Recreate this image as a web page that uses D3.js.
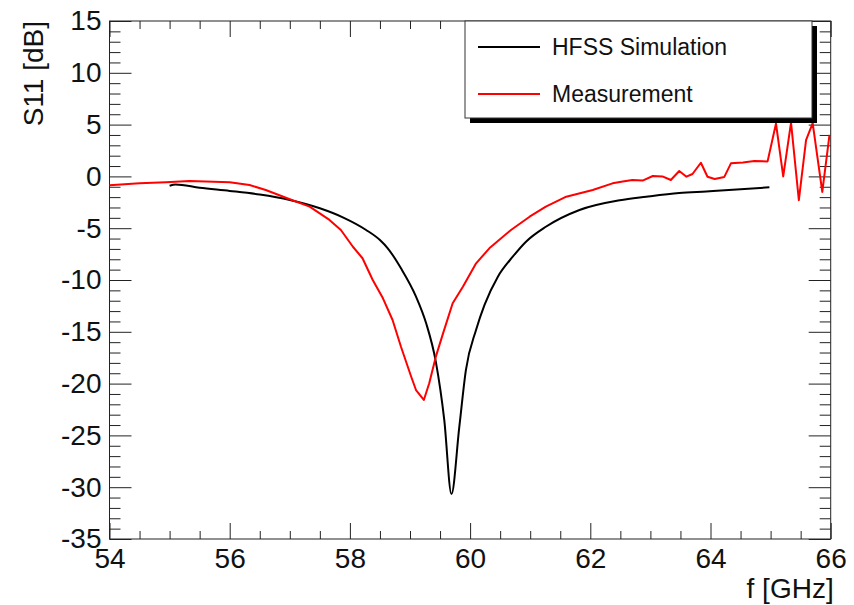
<!DOCTYPE html>
<html>
<head>
<meta charset="utf-8">
<title>S11</title>
<script src="https://cdn.jsdelivr.net/npm/d3@7"></script>
<style>
	body { margin: 0; background: #fff; }
	svg text { font-family: 'Liberation Sans', Arial, Helvetica, sans-serif; fill: #111; }
	.axis path { display: none; }
	.axis line { stroke: #222; }
</style>
</head>
<body>
<div id="chart"></div>
<script>
// HFSS simulation, f [GHz] and S11 [dB]
var simF = [55.0, 55.1, 55.5, 56.0, 56.5, 57.0, 57.5, 57.9, 58.27, 58.5, 58.63, 58.85, 59.1, 59.27, 59.43,
	59.57, 59.69, 59.82, 59.93, 60.1, 60.24, 60.46, 60.71, 60.93, 61.26, 61.82, 62.49, 62.93, 63.48, 63.93, 64.5, 64.98];
var simS = [-0.9, -0.78, -1.1, -1.4, -1.75, -2.28, -3.08, -4.0, -5.17, -6.14, -6.94, -8.87, -11.6, -14.2, -17.9,
	-23.5, -30.65, -24.2, -18.7, -14.8, -12.4, -9.7, -7.75, -6.3, -4.86, -3.24, -2.3, -1.96, -1.6, -1.45, -1.25, -1.05];

// measurement
var measF = [54.0, 54.5, 54.94, 55.33, 55.6, 56.0, 56.33, 56.6, 57.0, 57.33, 57.66, 57.85, 58.05, 58.21, 58.38,
	58.55, 58.71, 58.85, 59.02, 59.1, 59.23, 59.32, 59.43, 59.55, 59.71, 59.88, 60.1, 60.32, 60.68, 60.99,
	61.26, 61.6, 62.04, 62.37, 62.54, 62.7, 62.87, 63.04, 63.2, 63.34, 63.48, 63.6, 63.7, 63.84, 63.95,
	64.07, 64.23, 64.34, 64.54, 64.73, 64.95, 65.09, 65.21, 65.34, 65.47, 65.59, 65.7, 65.86, 65.98];
var measS = [-0.85, -0.67, -0.57, -0.45, -0.5, -0.57, -0.83, -1.31, -2.2, -2.92, -4.2, -5.17, -6.79, -7.9, -10.0,
	-11.77, -13.86, -16.44, -19.34, -20.62, -21.58, -19.97, -17.4, -15.15, -12.25, -10.65, -8.39, -6.94, -5.17, -3.89,
	-2.92, -1.96, -1.31, -0.67, -0.5, -0.35, -0.4, 0.04, 0.0, -0.35, 0.52, -0.03, 0.23, 1.32, -0.03,
	-0.25, -0.05, 1.26, 1.35, 1.49, 1.45, 5.1, 0.0, 5.2, -2.3, 3.5, 5.15, -1.5, 4.0];

var xTicks = [54, 56, 58, 60, 62, 64, 66];
var yTicks = [-35, -30, -25, -20, -15, -10, -5, 0, 5, 10, 15];
var series = ["HFSS Simulation", "Measurement"];
var colors = ["#000000", "#ff0000"];

var W = 854, H = 605;
var padL = 109.5, padR = 830.7, padT = 21, padB = 539;

var svg = d3.select("#chart").append("svg")
	.attr("width", W)
	.attr("height", H);

var x = d3.scaleLinear().domain([54, 66]).range([padL, padR]);
var y = d3.scaleLinear().domain([-35, 15]).range([padB, padT]);

var xMinor = d3.range(54, 66.01, 0.5).filter(function (d) { return d % 2 != 0; });
var yMinor = d3.range(-35, 15.01, 1).filter(function (d) { return d % 5 != 0; });

// plain hyphen for negatives, like the original
var fmt = function (d) { return String(d); };

// ticks on all four sides, pointing inwards
svg.append("g").attr("class", "axis tl").attr("transform", "translate(0," + padB + ")")
	.call(d3.axisBottom(x).tickValues(xTicks).tickSize(-16).tickPadding(9).tickFormat(fmt));
svg.append("g").attr("class", "axis").attr("transform", "translate(0," + padB + ")")
	.call(d3.axisBottom(x).tickValues(xMinor).tickSize(-8).tickFormat(""));
svg.append("g").attr("class", "axis").attr("transform", "translate(0," + padT + ")")
	.call(d3.axisTop(x).tickValues(xTicks).tickSize(-16).tickFormat(""));
svg.append("g").attr("class", "axis").attr("transform", "translate(0," + padT + ")")
	.call(d3.axisTop(x).tickValues(xMinor).tickSize(-8).tickFormat(""));

svg.append("g").attr("class", "axis tl").attr("transform", "translate(" + padL + ",0)")
	.call(d3.axisLeft(y).tickValues(yTicks).tickSize(-22).tickPadding(8).tickFormat(fmt));
svg.append("g").attr("class", "axis").attr("transform", "translate(" + padL + ",0)")
	.call(d3.axisLeft(y).tickValues(yMinor).tickSize(-11).tickFormat(""));
svg.append("g").attr("class", "axis").attr("transform", "translate(" + padR + ",0)")
	.call(d3.axisRight(y).tickValues(yTicks).tickSize(-22).tickFormat(""));
svg.append("g").attr("class", "axis").attr("transform", "translate(" + padR + ",0)")
	.call(d3.axisRight(y).tickValues(yMinor).tickSize(-11).tickFormat(""));

svg.selectAll(".tl text")
	.attr("font-size", 28)
	.attr("font-family", "'Liberation Sans', Arial, sans-serif")
	.attr("fill", "#111");

// frame
svg.append("rect")
	.attr("x", padL).attr("y", padT)
	.attr("width", padR - padL).attr("height", padB - padT)
	.attr("fill", "none").attr("stroke", "#222").attr("stroke-width", 1);

// titles
svg.append("text")
	.attr("x", padR + 3).attr("y", 598)
	.attr("text-anchor", "end")
	.attr("font-size", 28)
	.text("f [GHz]");
svg.append("text")
	.attr("transform", "translate(43," + padT + ") rotate(-90)")
	.attr("text-anchor", "end")
	.attr("font-size", 28)
	.text("S11 [dB]");

// curves
var simLine = d3.line()
	.x(function (d) { return x(d[0]); })
	.y(function (d) { return y(d[1]); })
	.curve(d3.curveMonotoneX);
var measLine = d3.line()
	.x(function (d) { return x(d[0]); })
	.y(function (d) { return y(d[1]); });

var data = [d3.zip(simF, simS), d3.zip(measF, measS)];

svg.selectAll("path.curve")
	.data(data)
	.enter()
	.append("path")
	.attr("class", "curve")
	.attr("d", function (d, i) { return i == 0 ? simLine(d) : measLine(d); })
	.attr("fill", "none")
	.attr("stroke", function (d, i) { return colors[i]; })
	.attr("stroke-width", 2)
	.attr("stroke-linejoin", "round");

// legend box with shadow
var lx = 465, ly = 21, lw = 347, lh = 97;
svg.append("rect").attr("x", lx + 5).attr("y", ly + 5).attr("width", lw).attr("height", lh).attr("fill", "#000");
svg.append("rect").attr("x", lx).attr("y", ly).attr("width", lw).attr("height", lh)
	.attr("fill", "#fff").attr("stroke", "#333").attr("stroke-width", 1);

var leg = svg.selectAll("g.leg")
	.data(series)
	.enter()
	.append("g")
	.attr("class", "leg")
	.attr("transform", function (d, i) { return "translate(" + lx + "," + (47 + i * 47) + ")"; });
leg.append("line")
	.attr("x1", 13).attr("x2", 75)
	.attr("stroke", function (d, i) { return colors[i]; })
	.attr("stroke-width", 2);
leg.append("text")
	.attr("x", 87).attr("y", 8)
	.attr("font-size", 23)
	.text(function (d) { return d; });
</script>
</body>
</html>
